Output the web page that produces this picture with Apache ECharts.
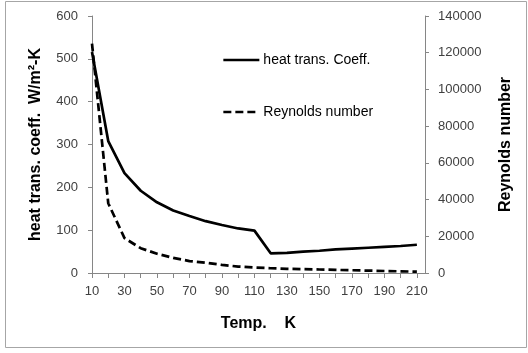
<!DOCTYPE html>
<html>
<head>
<meta charset="utf-8">
<script src="https://cdn.jsdelivr.net/npm/echarts@6/dist/echarts.min.js"></script>
<style>html,body{margin:0;padding:0;background:#fff}#c{width:528px;height:353px}</style>
</head>
<body>
<div id="c"></div>
<script>
const temps = [10,20,30,40,50,60,70,80,90,100,110,120,130,140,150,160,170,180,190,200,210];
const heatCoeff = [516,308,233,192,165,146,133,121,112,104,99,46,47,50,52,55,57,59,61,63,66];
const reynolds = [125000,38000,19000,13500,10500,8200,6500,5600,4400,3500,3000,2600,2300,2100,1900,1700,1500,1300,1100,900,700];
const leftTicks = {min:0, max:600, interval:100};
const rightTicks = {min:0, max:140000, interval:20000};

const chart = echarts.init(document.getElementById('c'));
const font = 'Liberation Sans, Arial, sans-serif';
chart.setOption({
  animation:false,
  textStyle:{fontFamily:font},
  graphic:[{type:'rect',shape:{x:5.5,y:1.5,width:521,height:346},style:{fill:'none',stroke:'#a6a6a6',lineWidth:1},silent:true}],
  grid:{left:92,right:103,top:16,bottom:80},
  legend:{
    orient:'vertical',left:222,top:53,padding:0,itemWidth:36,itemHeight:14,itemGap:38,
    itemStyle:{color:'transparent',borderColor:'transparent',borderWidth:0},
    lineStyle:{width:2.7},
    textStyle:{fontSize:14,color:'#000',fontFamily:font,padding:[0,0,0,-1]},
    data:['heat trans. Coeff.','Reynolds number']
  },
  xAxis:{
    type:'value',min:10,max:215,interval:10,
    name:'Temp.    K',nameLocation:'middle',nameGap:43,
    nameTextStyle:{fontSize:16,fontWeight:'bold',color:'#000'},
    axisLine:{lineStyle:{color:'#868686'}},
    axisTick:{show:true,length:5,lineStyle:{color:'#868686'}},
    splitLine:{show:false},
    axisLabel:{fontSize:13,color:'#404040',margin:12,showMaxLabel:false,
      formatter:v=> (v<=210 && (v-10)%20===0)? String(v):''}
  },
  yAxis:[{
    type:'value',min:leftTicks.min,max:leftTicks.max,interval:leftTicks.interval,
    name:'heat trans. coeff.  W/m²-K',nameLocation:'middle',nameGap:48,nameRotate:90,
    nameTextStyle:{fontSize:16,fontWeight:'bold',color:'#000'},
    axisLine:{show:true,lineStyle:{color:'#868686'}},
    axisTick:{show:true,length:4,lineStyle:{color:'#868686'}},
    splitLine:{show:false},
    axisLabel:{fontSize:13,color:'#404040',margin:14,formatter:v=>String(v)}
  },{
    type:'value',min:rightTicks.min,max:rightTicks.max,interval:rightTicks.interval,position:'right',
    name:'Reynolds number',nameLocation:'middle',nameGap:73,nameRotate:90,
    nameTextStyle:{fontSize:16,fontWeight:'bold',color:'#000'},
    axisLine:{show:true,lineStyle:{color:'#868686'}},
    axisTick:{show:true,length:4,lineStyle:{color:'#868686'}},
    splitLine:{show:false},
    axisLabel:{fontSize:13,color:'#404040',margin:13,formatter:v=>String(v)}
  }],
  series:[{
    name:'heat trans. Coeff.',type:'line',yAxisIndex:0,symbol:'none',
    data:temps.map((t,i)=>[t,heatCoeff[i]]),
    lineStyle:{color:'#000',width:2.7},itemStyle:{color:'#000'}
  },{
    name:'Reynolds number',type:'line',yAxisIndex:1,symbol:'none',
    data:temps.map((t,i)=>[t,reynolds[i]]),
    lineStyle:{color:'#000',width:2.7,type:[8,4]},itemStyle:{color:'#000'}
  }]
});
</script>
</body>
</html>
